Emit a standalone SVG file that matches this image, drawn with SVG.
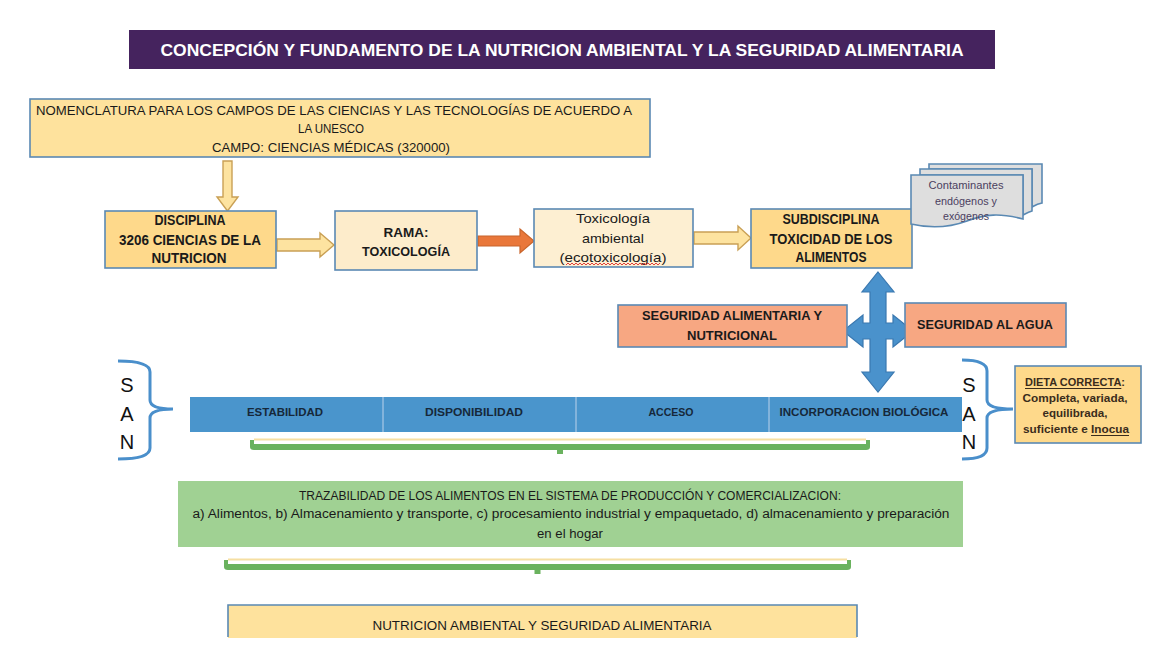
<svg xmlns="http://www.w3.org/2000/svg" width="1167" height="653" viewBox="0 0 1167 653">
<style>
text{font-family:"Liberation Sans Narrow","Liberation Sans",Arial,sans-serif;fill:#1a1a1a;text-anchor:middle;dominant-baseline:central}
.b{font-weight:bold}
.box{stroke:#5a89b3;stroke-width:1.6}
.yarrow{fill:#fde3a0;stroke:#c9a055;stroke-width:1.4}
.san{font-family:"Liberation Sans",Arial,sans-serif;font-size:20px;fill:#111}
.brace{fill:none;stroke:#4a8fcb;stroke-width:3}
.gb{fill:#6ab25e}
</style>
<rect width="1167" height="653" fill="#ffffff"/>

<g id="title">
<rect x="129" y="30" width="866" height="39" fill="#45235e"/>
<text x="562" y="50" class="b" font-size="17" style="fill:#ffffff" textLength="803" lengthAdjust="spacingAndGlyphs">CONCEPCIÓN Y FUNDAMENTO DE LA NUTRICION AMBIENTAL Y LA SEGURIDAD ALIMENTARIA</text>
</g>

<g id="connectors">
<polygon class="yarrow" points="223,161 232,161 232,197 238,197 227.5,211 217,197 223,197"/>
<polygon class="yarrow" points="277,239 320,239 320,233 334,245 320,257 320,251 277,251"/>
<polygon fill="#e9773a" stroke="#c8652c" stroke-width="1.2" points="478,236 520,236 520,229 534,241 520,253 520,246 478,246"/>
<polygon class="yarrow" points="694,232 738,232 738,226 751,238 738,250 738,244 694,244"/>
<polygon fill="#4a92cc" stroke="#3a78b0" stroke-width="1.2" points="878,272 894,292 886,292 886,323 893,323 893,315 913,331 893,347 893,339 886,339 886,372 894,372 878,392 862,372 870,372 870,339 863,339 863,347 843,331 863,315 863,323 870,323 870,292 862,292"/>
<path class="brace" d="M118,361 Q150,361 150,372 L150,400 Q150,409 173,409 Q150,409 150,418 L150,448 Q150,459 118,459"/>
<path class="brace" d="M962,360 Q987,360 987,371 L987,400 Q987,409 1013,409 Q987,409 987,418 L987,448 Q987,459 962,459"/>
<path class="gb" d="M250,440 L254,440 L254,444 L866,444 L866,440 L870,440 L870,447 Q870,450 866,450 L563,450 L563,454 L557,454 L557,450 L254,450 Q250,450 250,447 Z"/>
<rect x="254" y="438.5" width="612" height="2" fill="#f6dfa2"/>
<path class="gb" d="M224,560 L228,560 L228,564 L847,564 L847,560 L851,560 L851,567 Q851,570 847,570 L540.5,570 L540.5,574 L534.5,574 L534.5,570 L228,570 Q224,570 224,567 Z"/>
<rect x="228" y="558.5" width="619" height="2" fill="#f6dfa2"/>
</g>

<g id="nomenclatura">
<rect class="box" x="30" y="99" width="620" height="58" fill="#fee29d"/>
<text x="334" y="110" font-size="13" textLength="596" lengthAdjust="spacingAndGlyphs">NOMENCLATURA PARA LOS CAMPOS DE LAS CIENCIAS Y LAS TECNOLOGÍAS DE ACUERDO A</text>
<text x="331" y="128" font-size="13" textLength="66" lengthAdjust="spacingAndGlyphs">LA UNESCO</text>
<text x="331" y="147" font-size="13" textLength="238" lengthAdjust="spacingAndGlyphs">CAMPO: CIENCIAS MÉDICAS (320000)</text>
</g>

<g id="disciplina">
<rect class="box" x="105" y="211" width="171" height="57" fill="#fed98b"/>
<text x="190" y="220" class="b" font-size="14" textLength="71" lengthAdjust="spacingAndGlyphs">DISCIPLINA</text>
<text x="190" y="240" class="b" font-size="14" textLength="142" lengthAdjust="spacingAndGlyphs">3206 CIENCIAS DE LA</text>
<text x="189" y="258" class="b" font-size="14" textLength="75" lengthAdjust="spacingAndGlyphs">NUTRICION</text>
</g>

<g id="rama">
<rect class="box" x="335" y="211" width="142" height="59" fill="#fdeccb"/>
<text x="406" y="232" class="b" font-size="13.5" textLength="45" lengthAdjust="spacingAndGlyphs">RAMA:</text>
<text x="406" y="251" class="b" font-size="13.5" textLength="88" lengthAdjust="spacingAndGlyphs">TOXICOLOGÍA</text>
</g>

<g id="toxicologia">
<rect class="box" x="534" y="209" width="159" height="58" fill="#fdefd2"/>
<text x="613" y="218" font-size="13.5" textLength="74" lengthAdjust="spacingAndGlyphs">Toxicología</text>
<text x="613" y="238" font-size="13.5" textLength="62" lengthAdjust="spacingAndGlyphs">ambiental</text>
<text x="613" y="257" font-size="13.5" textLength="107" lengthAdjust="spacingAndGlyphs">(ecotoxicología)</text>
<polyline fill="none" stroke="#e0403a" stroke-width="1" points="566,265 568,263 570,265 572,263 574,265 576,263 578,265 580,263 582,265 584,263 586,265 588,263 590,265 592,263 594,265 596,263 598,265 600,263 602,265 604,263 606,265 608,263 610,265 612,263 614,265 616,263 618,265 620,263 622,265 624,263 626,265 628,263 630,265 632,263 634,265 636,263 638,265 640,263 642,265 644,263 646,265 648,263 650,265 652,263 654,265 656,263 658,265 660,263"/>
</g>

<g id="subdisciplina">
<rect class="box" x="751" y="209" width="161" height="59" fill="#fed98b"/>
<text x="831" y="219" class="b" font-size="14" textLength="97" lengthAdjust="spacingAndGlyphs">SUBDISCIPLINA</text>
<text x="831" y="239" class="b" font-size="14" textLength="123" lengthAdjust="spacingAndGlyphs">TOXICIDAD DE LOS</text>
<text x="831" y="257" class="b" font-size="14" textLength="71" lengthAdjust="spacingAndGlyphs">ALIMENTOS</text>
</g>

<g id="contaminantes">
<path class="box" fill="#dedede" d="M929,164 H1042 V203 C1036,204 1034,206 1032,207 V169 H929 Z"/>
<path class="box" fill="#dedede" d="M920,169 H1032 V211 C1028,212 1025,214 1023,215 V175 H920 Z"/>
<path class="box" fill="#dedede" d="M911,175 H1023 V219 C1000,213 985,214 967,221 C948,228 928,228 911,224 Z"/>
<text x="966" y="185" font-size="10" style="fill:#4b3f5e" textLength="75" lengthAdjust="spacingAndGlyphs">Contaminantes</text>
<text x="966" y="201" font-size="10" style="fill:#4b3f5e" textLength="62" lengthAdjust="spacingAndGlyphs">endógenos y</text>
<text x="966" y="216" font-size="10" style="fill:#4b3f5e" textLength="46" lengthAdjust="spacingAndGlyphs">exógenos</text>
</g>

<g id="seguridad-alimentaria">
<rect class="box" x="618" y="305" width="229" height="42" fill="#f7a782"/>
<text x="732" y="315" class="b" font-size="13.5" textLength="180" lengthAdjust="spacingAndGlyphs">SEGURIDAD ALIMENTARIA Y</text>
<text x="732" y="335" class="b" font-size="13.5" textLength="90" lengthAdjust="spacingAndGlyphs">NUTRICIONAL</text>
</g>

<g id="seguridad-agua">
<rect class="box" x="905" y="303" width="161" height="44" fill="#f7a782"/>
<text x="985" y="324" class="b" font-size="13.5" textLength="136" lengthAdjust="spacingAndGlyphs">SEGURIDAD AL AGUA</text>
</g>

<g id="san-left">
<text x="127" y="385" class="san">S</text>
<text x="127" y="414" class="san">A</text>
<text x="127" y="442" class="san">N</text>
</g>

<g id="san-right">
<text x="969" y="385" class="san">S</text>
<text x="969" y="414" class="san">A</text>
<text x="969" y="442" class="san">N</text>
</g>

<g id="pilares">
<rect x="190" y="397" width="772" height="35" fill="#4a95cc"/>
<line x1="383" y1="397" x2="383" y2="432" stroke="#a9c9e6" stroke-width="1.2"/>
<line x1="576" y1="397" x2="576" y2="432" stroke="#a9c9e6" stroke-width="1.2"/>
<line x1="769" y1="397" x2="769" y2="432" stroke="#a9c9e6" stroke-width="1.2"/>
<text x="285" y="412" class="b" font-size="11.5" style="fill:#16283a" textLength="76" lengthAdjust="spacingAndGlyphs">ESTABILIDAD</text>
<text x="474" y="412" class="b" font-size="11.5" style="fill:#16283a" textLength="98" lengthAdjust="spacingAndGlyphs">DISPONIBILIDAD</text>
<text x="671" y="412" class="b" font-size="11.5" style="fill:#16283a" textLength="45" lengthAdjust="spacingAndGlyphs">ACCESO</text>
<text x="864" y="412" class="b" font-size="11.5" style="fill:#16283a" textLength="169" lengthAdjust="spacingAndGlyphs">INCORPORACION BIOLÓGICA</text>
</g>

<g id="dieta">
<rect class="box" x="1015" y="366" width="126" height="77" fill="#fed98b"/>
<text x="1075" y="382" class="b" font-size="10" style="fill:#3a2c1c" textLength="100" lengthAdjust="spacingAndGlyphs"><tspan text-decoration="underline">DIETA CORRECTA</tspan>:</text>
<text x="1075" y="398" class="b" font-size="10" style="fill:#3a2c1c" textLength="105" lengthAdjust="spacingAndGlyphs">Completa, variada,</text>
<text x="1075" y="413" class="b" font-size="10" style="fill:#3a2c1c" textLength="65" lengthAdjust="spacingAndGlyphs">equilibrada,</text>
<text x="1076" y="429" class="b" font-size="10" style="fill:#3a2c1c" textLength="106" lengthAdjust="spacingAndGlyphs">suficiente e <tspan text-decoration="underline">Inocua</tspan></text>
</g>

<g id="trazabilidad">
<rect x="178" y="481" width="785" height="66" fill="#a0d193"/>
<text x="570" y="496" font-size="12.5" textLength="542" lengthAdjust="spacingAndGlyphs">TRAZABILIDAD DE LOS ALIMENTOS EN EL SISTEMA DE PRODUCCIÓN Y COMERCIALIZACION:</text>
<text x="571" y="514" font-size="12.5" textLength="757" lengthAdjust="spacingAndGlyphs">a) Alimentos, b) Almacenamiento y transporte, c) procesamiento industrial y empaquetado, d) almacenamiento y preparación</text>
<text x="570" y="534" font-size="12.5" textLength="66" lengthAdjust="spacingAndGlyphs">en el hogar</text>
</g>

<g id="nutricion-ambiental">
<rect x="228" y="605" width="629" height="40" fill="#fee29d"/>
<path d="M228,637 V605 H857 V637" fill="none" stroke="#5a89b3" stroke-width="1.6"/>
<rect x="226" y="638" width="634" height="15" fill="#ffffff"/>
<text x="542" y="625" font-size="13.5" textLength="339" lengthAdjust="spacingAndGlyphs">NUTRICION AMBIENTAL Y SEGURIDAD ALIMENTARIA</text>
</g>
</svg>
